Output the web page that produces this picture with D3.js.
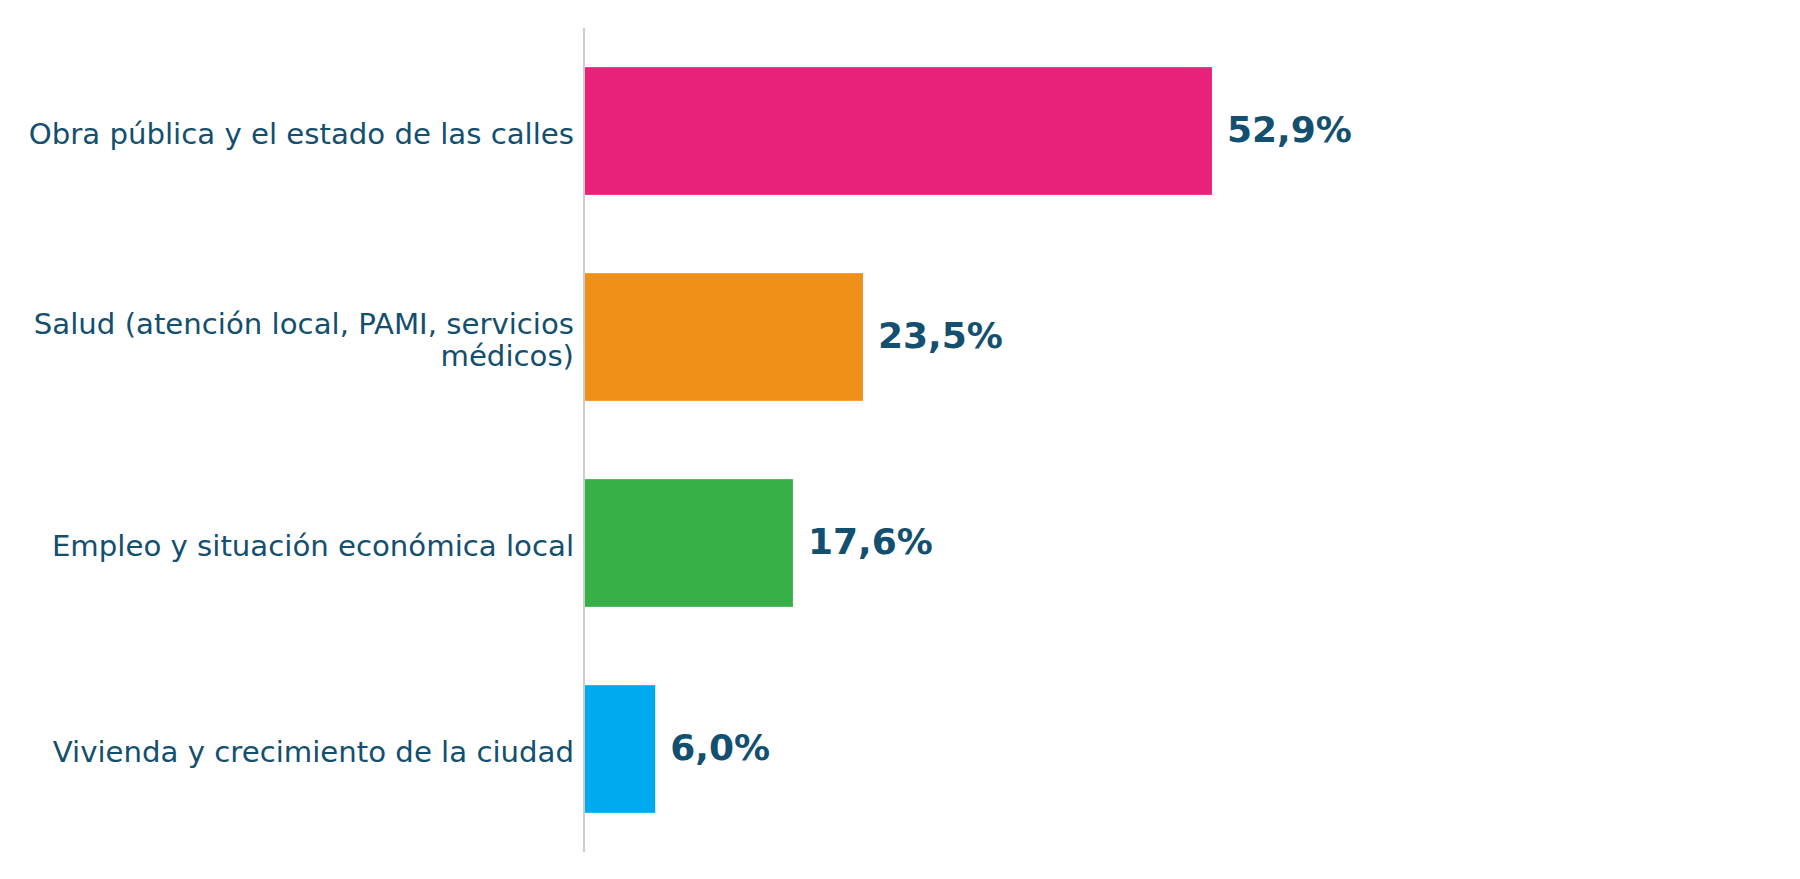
<!DOCTYPE html>
<html>
<head>
<meta charset="utf-8">
<script src="https://cdn.jsdelivr.net/npm/d3@7"></script>
<style>
  html, body { margin: 0; padding: 0; background: #fff; }
  svg { display: block; }
</style>
</head>
<body>
<svg class="chart"></svg>
<script>
// data
const categories = [
    "Obra pública y el estado de las calles",
    "Salud (atención local, PAMI, servicios médicos)",
    "Empleo y situación económica local",
    "Vivienda y crecimiento de la ciudad"
];
const values = [52.9, 23.5, 17.6, 6.0];
const valueLabels = ["52,9%", "23,5%", "17,6%", "6,0%"];
const barColors = ["#E8217A", "#F18F1B", "#38B049", "#00AAEF"];
// label lines, the long one breaks in two
const labelLines = [
    ["Obra pública y el estado de las calles"],
    ["Salud (atención local, PAMI, servicios", "médicos)"],
    ["Empleo y situación económica local"],
    ["Vivienda y crecimiento de la ciudad"]
];

const width = 1800, height = 879;
const margin = {top: 28, right: 29, bottom: 27, left: 584};
const textColor = "#134F6E";

const svg = d3.select(".chart")
    .attr("width", width)
    .attr("height", height);

const x = d3.scaleLinear()
    .domain([0, 100])
    .range([margin.left, width - margin.right]);

const y = d3.scaleBand()
    .domain(categories)
    .range([margin.top, height - margin.bottom])
    .paddingInner(0.38)
    .paddingOuter(0.19);

const rows = categories.map((c, i) => ({cat: c, value: values[i], label: valueLabels[i], color: barColors[i], lines: labelLines[i]}));

// bars
svg.append("g").attr("class", "bars")
    .selectAll("rect")
    .data(rows)
    .enter().append("rect")
        .attr("x", x(0))
        .attr("y", d => y(d.cat))
        .attr("width", d => x(d.value) - x(0))
        .attr("height", y.bandwidth())
        .style("fill", d => d.color);

// y axis line
svg.append("line")
    .attr("x1", x(0)).attr("x2", x(0))
    .attr("y1", margin.top).attr("y2", height - margin.bottom)
    .style("stroke", "#CCCCCC")
    .style("stroke-width", 2);

// category labels
const lineH = 32;
const labels = svg.append("g").attr("class", "cat-labels")
    .selectAll("text")
    .data(rows)
    .enter().append("text")
        .attr("text-anchor", "end")
        .style("font-family", "'DejaVu Sans', sans-serif")
        .style("font-size", "29.2px")
        .style("fill", textColor)
        .attr("transform", d => {
            const cy = y(d.cat) + y.bandwidth() / 2;
            return "translate(" + (x(0) - 10) + "," + cy + ")";
        });

labels.selectAll("tspan")
    .data(d => d.lines.map((l, i) => ({text: l, i: i, n: d.lines.length})))
    .enter().append("tspan")
        .attr("x", 0)
        .attr("y", t => (t.i - (t.n - 1) / 2) * lineH)
        .attr("dy", "0.45em")
        .text(t => t.text);

// value labels
svg.append("g").attr("class", "value-labels")
    .selectAll("text")
    .data(rows)
    .enter().append("text")
        .attr("x", d => x(d.value) + 15)
        .attr("y", d => y(d.cat) + y.bandwidth() / 2)
        .attr("dy", "0.3em")
        .style("font-family", "'DejaVu Sans', sans-serif")
        .style("font-weight", "bold")
        .style("font-size", "36px")
        .style("fill", textColor)
        .text(d => d.label);
</script>
</body>
</html>
